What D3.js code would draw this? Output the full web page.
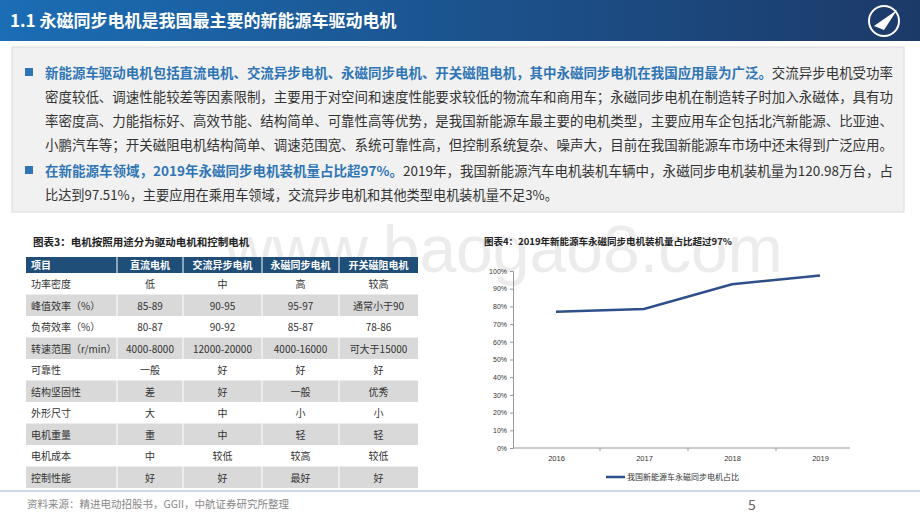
<!DOCTYPE html>
<html><head><meta charset="utf-8">
<script src="https://cdn.jsdelivr.net/npm/d3@7"></script>
<style>body{margin:0;background:#fff}svg{display:block;font-family:"Noto Sans CJK SC","Noto Sans",sans-serif}</style>
</head><body>
<svg width="920" height="518"></svg>
<script>
// chart data
const years = ['2016', '2017', '2018', '2019'];
const share = [0.77, 0.785, 0.925, 0.9751];
const yTicks = [0, .1, .2, .3, .4, .5, .6, .7, .8, .9, 1];

// table data
const tableHead = ['项目', '直流电机', '交流异步电机', '永磁同步电机', '开关磁阻电机'];
const tableRows = [
  ['功率密度', '低', '中', '高', '较高'],
  ['峰值效率（%）', '85-89', '90-95', '95-97', '通常小于90'],
  ['负荷效率（%）', '80-87', '90-92', '85-87', '78-86'],
  ['转速范围（r/min）', '4000-8000', '12000-20000', '4000-16000', '可大于15000'],
  ['可靠性', '一般', '好', '好', '好'],
  ['结构坚固性', '差', '好', '一般', '优秀'],
  ['外形尺寸', '大', '中', '小', '小'],
  ['电机重量', '重', '中', '轻', '轻'],
  ['电机成本', '中', '较低', '较高', '较低'],
  ['控制性能', '好', '好', '最好', '好']
];

const svg = d3.select('svg');
const blue = '#2e75b6';

// header bar
const grad = svg.append('defs').append('linearGradient').attr('id', 'hg');
grad.append('stop').attr('offset', '0%').attr('stop-color', '#1b6db5');
grad.append('stop').attr('offset', '100%').attr('stop-color', '#1c3a68');
svg.append('rect').attr('width', 920).attr('height', 41).attr('fill', 'url(#hg)');
svg.append('text').attr('x', 10).attr('y', 27).attr('fill', '#fff')
  .attr('font-size', 17).attr('font-weight', 'bold').text('1.1 永磁同步电机是我国最主要的新能源车驱动电机');
svg.append('circle').attr('cx', 884).attr('cy', 21).attr('r', 15)
  .attr('fill', 'none').attr('stroke', '#fff').attr('stroke-width', 2);
svg.append('path').attr('d', 'M874,26 L897,10 L884,30 Z').attr('fill', '#fff');

// watermark
svg.append('text').attr('x', 225).attr('y', 272).attr('font-size', 66)
  .attr('fill', '#ececec').attr('font-family', 'Arial,sans-serif').text('www.baogao8.com');

// text box
svg.append('rect').attr('x', 12).attr('y', 47).attr('width', 892).attr('height', 165)
  .attr('fill', '#f1f1f1').attr('stroke', '#dcdcdc');
const lines = [
  [['新能源车驱动电机包括直流电机、交流异步电机、永磁同步电机、开关磁阻电机，其中永磁同步电机在我国应用最为广泛。', true], ['交流异步电机受功率', false]],
  [['密度较低、调速性能较差等因素限制，主要用于对空间和速度性能要求较低的物流车和商用车；永磁同步电机在制造转子时加入永磁体，具有功', false]],
  [['率密度高、力能指标好、高效节能、结构简单、可靠性高等优势，是我国新能源车最主要的电机类型，主要应用车企包括北汽新能源、比亚迪、', false]],
  [['小鹏汽车等；开关磁阻电机结构简单、调速范围宽、系统可靠性高，但控制系统复杂、噪声大，目前在我国新能源车市场中还未得到广泛应用。', false]],
  [['在新能源车领域，2019年永磁同步电机装机量占比超97%。', true], ['2019年，我国新能源汽车电机装机车辆中，永磁同步电机装机量为120.98万台，占', false]],
  [['比达到97.51%，主要应用在乘用车领域，交流异步电机和其他类型电机装机量不足3%。', false]]
];
const lineY = [78, 102, 126, 150, 176, 200];
lines.forEach((parts, i) => {
  const t = svg.append('text').attr('x', 45).attr('y', lineY[i]).attr('font-size', 13.2)
    .attr('textLength', i === 5 ? null : 848).attr('lengthAdjust', 'spacingAndGlyphs');
  parts.forEach(([s, b]) => t.append('tspan').text(s)
    .attr('fill', b ? blue : '#333').attr('font-weight', b ? 'bold' : 'normal'));
});
[73, 171].forEach(y => svg.append('rect').attr('x', 25).attr('y', y - 5).attr('width', 8).attr('height', 8).attr('fill', blue));

// table
svg.append('text').attr('x', 33).attr('y', 246).attr('font-size', 10.5).attr('font-weight', 'bold')
  .attr('fill', '#222').text('图表3：电机按照用途分为驱动电机和控制电机');
const colX = [26, 117, 183, 262, 339, 418];
const headY = 257, headH = 16, rowH = 21.5;
const tg = svg.append('g');
tg.append('rect').attr('x', colX[0]).attr('y', headY).attr('width', colX[5] - colX[0]).attr('height', headH).attr('fill', '#1f4e79');
tableHead.forEach((h, j) => tg.append('text')
  .attr('x', j === 0 ? colX[0] + 5 : (colX[j] + colX[j + 1]) / 2).attr('y', headY + 12)
  .attr('text-anchor', j === 0 ? 'start' : 'middle').attr('font-size', 10).attr('font-weight', 'bold')
  .attr('fill', '#fff').text(h));
tableRows.forEach((r, i) => {
  const y = headY + headH + i * rowH;
  if (i % 2 === 1) tg.append('rect').attr('x', colX[0]).attr('y', y).attr('width', colX[5] - colX[0]).attr('height', rowH).attr('fill', '#d9d9d9');
  r.forEach((c, j) => tg.append('text')
    .attr('x', j === 0 ? colX[0] + 5 : (colX[j] + colX[j + 1]) / 2).attr('y', y + 15)
    .attr('text-anchor', j === 0 ? 'start' : 'middle').attr('font-size', 10)
    .attr('fill', '#333').text(c));
});
colX.slice(1, 5).forEach(x => tg.append('line').attr('x1', x).attr('x2', x)
  .attr('y1', headY).attr('y2', headY + headH + rowH * 10).attr('stroke', '#fff'));

// line chart
svg.append('text').attr('x', 484).attr('y', 245).attr('font-size', 9.5).attr('font-weight', 'bold')
  .attr('fill', '#222').text('图表4：2019年新能源车永磁同步电机装机量占比超过97%');
const x = d3.scalePoint().domain(years).range([556, 820]);
const y = d3.scaleLinear().domain([0, 1]).range([448, 271]);
const cg = svg.append('g').attr('font-family', 'Arial,sans-serif');
cg.append('g').attr('transform', 'translate(513,0)')
  .call(d3.axisLeft(y).tickValues(yTicks).tickFormat(d3.format('.0%')).tickSize(3))
  .call(g => g.selectAll('text').attr('font-size', 7).attr('fill', '#333'))
  .call(g => g.selectAll('path,line').attr('stroke', '#999'));
cg.append('g').attr('transform', 'translate(0,448)')
  .call(d3.axisBottom(x).tickSize(0).tickPadding(8))
  .call(g => g.select('.domain').attr('d', 'M513,0H850').attr('stroke', '#999'))
  .call(g => g.selectAll('text').attr('font-size', 7.5).attr('fill', '#333'));
[600, 688, 776].forEach(t => cg.append('line').attr('x1', t).attr('x2', t).attr('y1', 448).attr('y2', 451).attr('stroke', '#999'));
cg.append('path').datum(share)
  .attr('d', d3.line().x((d, i) => x(years[i])).y(d => y(d)))
  .attr('fill', 'none').attr('stroke', '#2f4f8a').attr('stroke-width', 2.5);
svg.append('line').attr('x1', 606).attr('x2', 625).attr('y1', 477).attr('y2', 477).attr('stroke', '#2f4f8a').attr('stroke-width', 2.5);
svg.append('text').attr('x', 627).attr('y', 480).attr('font-size', 8).attr('fill', '#333').text('我国新能源车永磁同步电机占比');

// footer
svg.append('line').attr('x1', 0).attr('x2', 920).attr('y1', 491).attr('y2', 491).attr('stroke', '#c9d9ea').attr('stroke-width', 2);
svg.append('text').attr('x', 27).attr('y', 508).attr('font-size', 10.5).attr('fill', '#888')
  .text('资料来源：精进电动招股书，GGII，中航证券研究所整理');
svg.append('text').attr('x', 748).attr('y', 510).attr('font-size', 14).attr('fill', '#666').text('5');
</script>
</body></html>
